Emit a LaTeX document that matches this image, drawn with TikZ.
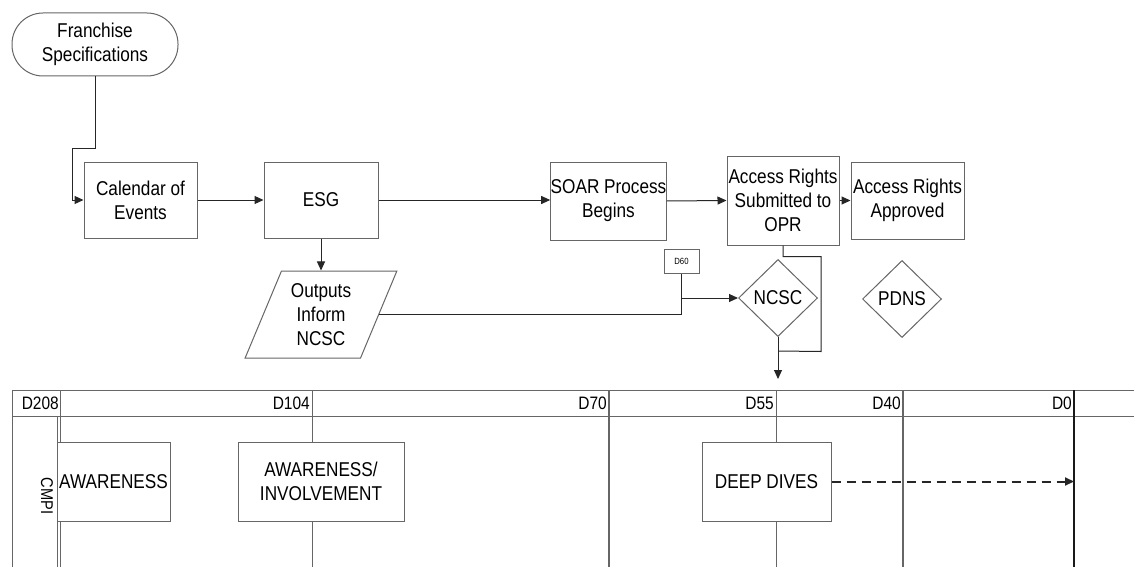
\documentclass[tikz,border=0pt]{standalone}
\usepackage{fontspec}
\setmainfont{Liberation Sans}[FakeStretch=0.86]
\usetikzlibrary{shapes.geometric,arrows.meta,calc}
\begin{document}
\begin{tikzpicture}[x=1pt,y=-1pt,
  every node/.style={font=\fontsize{20}{24}\selectfont, align=center, inner sep=0pt},
  box/.style n args={2}{draw=black!60, fill=white, line width=1pt, minimum width=#1, minimum height=#2},
  dia/.style={diamond, draw=black!60, fill=white, line width=1pt, minimum width=79pt, minimum height=77pt, inner sep=0pt},
  conn/.style={line width=1pt, draw=black!85},
  arr/.style={conn, -{Triangle[length=9pt,width=8pt]}},
  hdr/.style={anchor=east, font=\fontsize{18}{20}\selectfont},
  grid/.style={line width=1pt, draw=black!60}]
\useasboundingbox (0,0) rectangle (1134,567);
\fill[white] (0,0) rectangle (1134,567);

% top flow
\node[draw=black!60, line width=1pt, rounded corners=31pt, minimum width=166pt, minimum height=63pt] (fr) at (95,44.5) {Franchise\\Specifications};
\node[box={113pt}{76pt}] (cal) at (140.5,200) {Calendar of\\Events};
\node[box={114pt}{76pt}] (esg) at (321,200) {ESG};
\node[box={113pt}{78pt}] (soar) at (608.5,201) {SOAR Process\\Begins};
\node[box={112pt}{89pt}] (sub) at (783,200.5) {Access Rights\\Submitted to\\OPR};
\node[box={113pt}{77pt}] (app) at (907.5,200.5) {Access Rights\\Approved};
\node[trapezium, trapezium left angle=66, trapezium right angle=114, trapezium stretches=true,
      draw=black!60, fill=white, line width=1pt, minimum width=152pt, minimum height=87pt] (par) at (321,314.5) {Outputs\\Inform\\NCSC};
\node[box={35pt}{24pt}, font=\fontsize{9}{10}\selectfont] (d60) at (681.5,261) {D60};
\node[dia] (ncsc) at (778,298) {NCSC};
\node[dia] (pdns) at (902,299) {PDNS};

\coordinate (loopend) at (778,351);
\coordinate (arrend) at (778,379);

\draw[arr] (fr.south) -- ++(0,72) -| ($(cal.west)+(-11,0)$) -- (cal.west);
\draw[arr] (cal.east) -- (esg.west);
\draw[arr] (esg.east) -- (esg.east -| soar.west);
\draw[arr] (soar.east) -- (sub.west);
\draw[arr] (sub.east |- app.west) -- (app.west);
\draw[arr] (esg.south) -- (esg.south |- par.north);
\draw[conn] (par.east) -| (d60.south);
\draw[arr] (d60.south |- ncsc.west) -- (ncsc.west);
\draw[conn] (sub.south) -- ++(0,11) -- ++(38,0) -- ++(0,95) -- (loopend);
\draw[arr] (ncsc.south) -- (arrend);

% timeline table
\draw[grid] (12,567) -- (12,390) -- (1134,390);
\draw[grid] (12,416) -- (1134,416);
\draw[grid] (60,390) -- (60,567);
\draw[grid] (57,416) -- (57,567);
\draw[grid] (312,390) -- (312,567);
\draw[grid, line width=1.5pt] (609,390) -- (609,567);
\draw[grid] (776,390) -- (776,567);
\draw[grid, line width=1.3pt] (903,390) -- (903,567);
\draw[line width=1.2pt, draw=black!90] (1074,390) -- (1074,567);

\node[hdr] (h208) at (59,403) {D208};
\node[hdr] (h104) at (310,403) {D104};
\node[hdr] (h70) at (607,403) {D70};
\node[hdr] (h55) at (774,403) {D55};
\node[hdr] (h40) at (901,403) {D40};
\node[hdr] (h0) at (1072,403) {D0};

\node[rotate=-90, font=\fontsize{17}{18}\selectfont] (cmpi) at (47,496) {CMPI};

\node[box={113pt}{79pt}] (aw) at (113.5,481.5) {};
\node[anchor=west] (awt) at (59,481.5) {AWARENESS};
\node[box={166pt}{79pt}] (awi) at (321,481.5) {AWARENESS/\\INVOLVEMENT};
\node[box={129pt}{79pt}] (dd) at (766.5,481.5) {DEEP DIVES};
\coordinate (d0) at (1074,481.5);
\draw[conn, dash pattern=on 9pt off 6pt, line width=2pt, -{Triangle[length=9pt,width=8pt]}] (dd.east) -- (d0);
\end{tikzpicture}
\end{document}
